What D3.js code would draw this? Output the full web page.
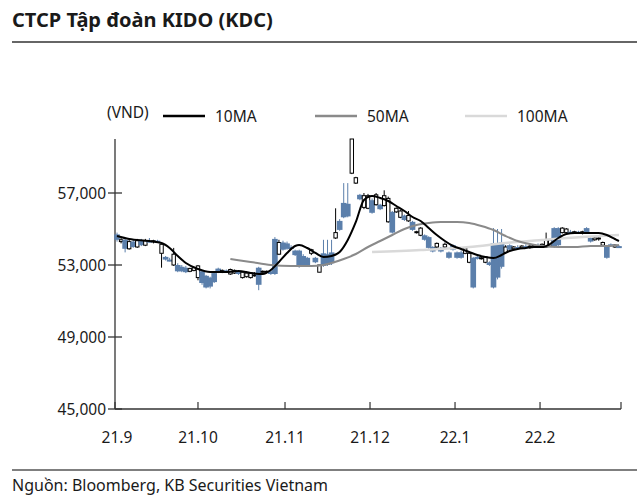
<!DOCTYPE html>
<html><head><meta charset="utf-8">
<script src="https://cdn.jsdelivr.net/npm/d3@7"></script>
<style>
body{margin:0;background:#fff;}
svg text{font-family:"Noto Sans",sans-serif;fill:#1a1a1a;}
</style></head>
<body><svg id="c" width="640" height="500"></svg>
<script>
// ---- data ----
const opens = [54700,54300,54400,53900,54300,54000,54350,54100,54350,54300,54350,53650,53450,53300,53000,53000,52900,52850,52650,52700,
52300,52650,52400,52300,52550,52800,52600,52700,52500,52550,52650,52300,52350,52300,52400,52850,52600,52600,52650,54450,
53600,54250,54200,54000,53800,53800,53500,53400,53650,53400,52600,53650,53600,53700,54500,55450,56450,56400,58100,57550,
56900,56200,56150,56600,56350,56350,56300,55400,55950,55950,55650,55750,55450,55400,54800,54650,54650,54550,54000,54000,
53950,54000,53700,54100,53700,53700,53650,53150,53400,53450,53350,53150,53150,54200,54200,54250,53700,54100,53900,54000,
53950,54050,54000,54050,54100,54000,54000,54050,55050,55050,54800,54800,54850,54800,54850,54800,55050,54500,54400,54450,
54100,54000,54150,54000,54050];
const highs = [54800,54500,54450,54400,54400,54450,54450,54450,54500,54400,54400,54200,53500,53400,53950,53100,53000,52950,52850,52900,
53000,52700,52450,52350,52600,52850,52750,52750,52800,52750,52700,52650,52650,52600,52600,52900,52700,52700,52750,54550,
54400,54350,54300,54100,53850,53850,53600,53450,53900,53450,53000,54400,54400,54400,56150,55550,57550,57550,60000,57900,
56950,57000,56950,56700,57000,56400,57150,56800,56000,56200,56050,55800,56000,55450,54900,55100,54700,54600,54050,54250,
54000,54250,53750,54150,53750,53800,54000,53700,53450,53500,53450,53500,53200,55050,55000,55000,54100,54150,54050,54100,
54100,54150,54100,54150,54200,54200,54800,54450,55100,55100,55100,55050,54950,54900,54900,54900,55100,54550,54550,54550,
54300,54050,54200,54150,54100];
const lows = [54300,54200,53700,53850,53950,53950,54050,54050,54250,54200,54250,52850,53250,53200,52950,52600,52600,52550,52600,52650,
52150,51900,51700,51700,52000,52550,52550,52600,52450,52500,52450,52250,52300,52250,52350,51600,52500,52550,52450,52450,
53550,53800,53850,53850,53500,52850,52900,52900,53550,53100,52600,52900,52950,53000,54450,54900,55600,55650,58050,57500,
56600,56100,56100,55850,56300,56050,56250,55350,54750,55900,55600,55450,55400,54900,54750,54600,54350,53900,53700,53950,
53700,53950,53350,53800,53350,53350,53600,53100,51700,53300,53300,53100,52950,51700,52200,52800,53650,53800,53850,53900,
53900,53950,53900,54000,54000,53950,53950,54000,53950,54000,54750,54750,54750,54750,54750,54700,54750,54250,54350,54350,
54050,53350,54000,53950,53950];
const closes = [54400,54400,53900,54300,54000,54350,54100,54350,54300,54350,54300,54150,53300,53250,53600,52650,52650,52600,52800,52850,
52950,52000,51750,51800,52050,52600,52700,52650,52750,52700,52500,52600,52550,52550,52450,51900,52650,52650,52500,52500,
54250,53850,53900,53900,53550,52900,53000,52950,53850,53150,53000,52950,53000,53100,54800,54950,55650,55700,60000,57850,
56650,56850,56850,55900,56900,56100,56850,56700,54800,56150,56000,55500,55750,54950,54850,55050,54400,53950,53750,54200,
53750,54150,53400,53850,53400,53400,53950,53650,51750,53350,53400,53450,53000,51750,52300,52900,54000,53850,54000,53950,
54050,54000,54050,54100,54050,54150,54400,54400,54000,54100,55050,55000,54800,54850,54800,54850,54800,54300,54500,54500,
54250,53400,54050,54100,54000];

// moving averages: [trading-day index, value]
const ma10 = [[0,54611],[3,54444],[8,54333],[11,54222],[13,53944],[15,53500],[17,53111],[20,52778],[23,52611],[27,52611],
[30,52667],[33,52556],[36,52500],[38,52722],[40,53167],[42,53667],[44,54056],[45,54111],[47,53944],[49,53667],[51,53444],
[53,53500],[55,53722],[57,54389],[59,55389],[61,56611],[63,56833],[65,56722],[67,56556],[69,56278],[71,56000],[73,55667],
[75,55444],[77,55056],[79,54667],[81,54333],[83,54056],[85,53889],[87,53722],[89,53556],[91,53444],[93,53389],[95,53556],
[97,53778],[99,53889],[101,53944],[103,54000],[105,54000],[107,54167],[109,54500],[111,54722],[113,54778],[115,54778],
[117,54778],[119,54778],[121,54667],[123,54444],[124,54333]];
const ma50 = [[28,53333],[33,53167],[38,53000],[43,52944],[48,52944],[51,53000],[53,53111],[56,53333],[59,53611],[62,54000],
[65,54333],[68,54667],[71,55000],[74,55222],[77,55333],[80,55389],[84,55389],[87,55333],[90,55167],[93,54944],[96,54611],
[99,54333],[102,54167],[105,54056],[109,54000],[113,54000],[117,54056],[121,54056],[124,54111]];
const ma100 = [[63,53722],[75,53833],[87,54000],[96,54222],[105,54389],[115,54556],[124,54667]];

const yTicks = [45000,49000,53000,57000];
const monthTicks = [-0.5,20,41.5,62.5,83.5,104.5,124.5];
const monthLabels = ["21.9","21.10","21.11","21.12","22.1","22.2",""];
const legendNames = ["10MA","50MA","100MA"];
const legendColors = ["#000000","#8a8a8a","#d9d9d9"];

// ---- drawing ----
const svg = d3.select("#c");
const x = d3.scaleLinear().domain([-0.5,124.5]).range([115,621]);
const y = d3.scaleLinear().domain([45000,60000]).range([409,139]);
const blue = "#5b7fab";

// title
svg.append("text").attr("x",12).attr("y",27).attr("font-size",20).attr("font-weight","bold")
  .text("CTCP Tập đoàn KIDO (KDC)");
svg.append("line").attr("x1",12).attr("x2",637).attr("y1",42).attr("y2",42).attr("stroke","#666").attr("stroke-width",2);
// footer
svg.append("line").attr("x1",12).attr("x2",637).attr("y1",470).attr("y2",470).attr("stroke","#555").attr("stroke-width",1.5);
svg.append("text").attr("x",12).attr("y",491).attr("font-size",16).text("Nguồn: Bloomberg, KB Securities Vietnam");

// unit
svg.append("text").attr("x",107).attr("y",118).attr("font-size",15.5).text("(VND)");

// legend
const legX = [163,315,465];
legendNames.forEach((n,k)=>{
  svg.append("line").attr("x1",legX[k]).attr("x2",legX[k]+42).attr("y1",116).attr("y2",116)
    .attr("stroke",legendColors[k]).attr("stroke-width",2.5);
  svg.append("text").attr("x",legX[k]+52).attr("y",121.5).attr("font-size",15.5).text(n);
});

// y axis
svg.append("line").attr("x1",x(-0.5)).attr("x2",x(-0.5)).attr("y1",139).attr("y2",409).attr("stroke","#333").attr("stroke-width",1.3);
const yg = svg.append("g");
yTicks.forEach(t=>{
  yg.append("line").attr("x1",108).attr("x2",122).attr("y1",y(t)).attr("y2",y(t)).attr("stroke","#333").attr("stroke-width",1.3);
  yg.append("text").attr("x",106).attr("y",y(t)+5.5).attr("text-anchor","end").attr("font-size",15.5)
    .text(d3.format(",")(t));
});
// x axis
svg.append("line").attr("x1",x(-0.5)).attr("x2",x(124.5)).attr("y1",409).attr("y2",409).attr("stroke","#333").attr("stroke-width",1.3);
monthTicks.forEach((t,k)=>{
  svg.append("line").attr("x1",x(t)).attr("x2",x(t)).attr("y1",402).attr("y2",409).attr("stroke","#333").attr("stroke-width",1.2);
  if(monthLabels[k]) svg.append("text").attr("x",x(t)+(k===0?2:0)).attr("y",443).attr("text-anchor","middle")
    .attr("font-size",15.5).text(monthLabels[k]);
});

// candles
const bw = x(1)-x(0);
const cg = svg.append("g");
opens.forEach((o,i)=>{
  const c = closes[i], h = highs[i], l = lows[i];
  const cx = x(i);
  const up = c >= o;
  cg.append("line").attr("x1",cx).attr("x2",cx).attr("y1",y(h)).attr("y2",y(l))
    .attr("stroke", up ? "#000" : blue).attr("stroke-width",1);
  const top = y(Math.max(o,c)), bot = y(Math.min(o,c));
  if(up){
    cg.append("rect").attr("x",cx-1.7).attr("y",top).attr("width",3.4).attr("height",Math.max(bot-top,1))
      .attr("fill","#fff").attr("stroke","#000").attr("stroke-width",1);
  } else {
    cg.append("rect").attr("x",cx-bw/2-0.8).attr("y",top).attr("width",bw+1.6).attr("height",Math.max(bot-top,2))
      .attr("fill",blue);
  }
});

// moving averages
const line = d3.line().x(d=>x(d[0])).y(d=>y(d[1])).curve(d3.curveMonotoneX);
svg.append("path").attr("d",line(ma100)).attr("fill","none").attr("stroke",legendColors[2]).attr("stroke-width",2.5);
svg.append("path").attr("d",line(ma50)).attr("fill","none").attr("stroke",legendColors[1]).attr("stroke-width",2);
svg.append("path").attr("d",line(ma10)).attr("fill","none").attr("stroke",legendColors[0]).attr("stroke-width",2);
</script></body></html>
